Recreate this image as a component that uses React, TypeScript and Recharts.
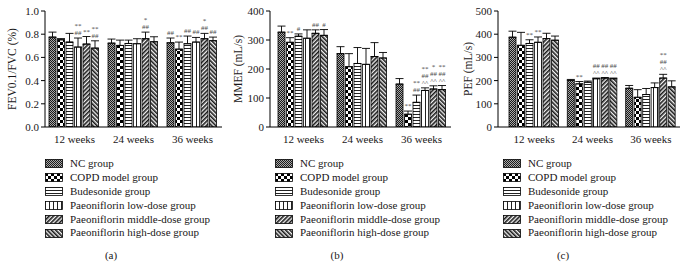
import React from 'react';
import { BarChart, Bar, XAxis, YAxis, ErrorBar, LabelList, Legend } from 'recharts';

const categories = ['12 weeks', '24 weeks', '36 weeks'];
const groupNames = [
  'NC group',
  'COPD model group',
  'Budesonide group',
  'Paeoniflorin low-dose group',
  'Paeoniflorin middle-dose group',
  'Paeoniflorin high-dose group',
];
const patternIds = ['patNC', 'patCOPD', 'patBud', 'patLow', 'patMid', 'patHigh'];

// (a) FEV0.1/FVC (%)
const fevMeans = [
  [0.775, 0.723, 0.726],
  [0.752, 0.703, 0.671],
  [0.732, 0.72, 0.718],
  [0.689, 0.718, 0.732],
  [0.715, 0.761, 0.761],
  [0.68, 0.735, 0.744],
];
const fevErrors = [
  [0.043, 0.035, 0.041],
  [0.01, 0.046, 0.061],
  [0.075, 0.029, 0.066],
  [0.078, 0.043, 0.04],
  [0.065, 0.057, 0.046],
  [0.063, 0.043, 0.031],
];
const fevMarks = [
  ['', '', '##'],
  ['', '', '**'],
  ['', '', '##'],
  ['**\n##', '', '##'],
  ['**', '*\n##', '*\n##'],
  ['**\n##', '', '##'],
];
const fevTicks = [0, 0.2, 0.4, 0.6, 0.8, 1.0];

// (b) MMEF (mL/s)
const mmefMeans = [
  [327, 253, 148],
  [292, 208, 44],
  [313, 219, 85],
  [306, 216, 126],
  [323, 243, 131],
  [316, 238, 129],
];
const mmefErrors = [
  [21, 24, 19],
  [16, 45, 11],
  [8, 55, 25],
  [29, 55, 9],
  [12, 48, 11],
  [20, 19, 14],
];
const mmefMarks = [
  ['', '', ''],
  ['**', '', '**'],
  ['#', '', '**\n##'],
  ['', '', '**\n##\n^^'],
  ['##', '', '*\n##\n^^'],
  ['#', '', '**\n##\n^^'],
];
const mmefTicks = [0, 100, 200, 300, 400];

// (c) PEF (mL/s)
const pefMeans = [
  [387, 201, 167],
  [352, 186, 128],
  [360, 193, 140],
  [365, 208, 170],
  [381, 211, 211],
  [374, 208, 173],
];
const pefErrors = [
  [26, 4, 12],
  [56, 10, 33],
  [16, 5, 26],
  [23, 3, 20],
  [23, 2, 16],
  [18, 3, 26],
];
const pefMarks = [
  ['', '', ''],
  ['', '**', ''],
  ['**', '', ''],
  ['**', '##\n^^', ''],
  ['', '##\n^^', '**\n##\n^^'],
  ['', '##\n^^', ''],
];
const pefTicks = [0, 100, 200, 300, 400, 500];

const FONT = "'Liberation Serif', 'DejaVu Serif', 'Times New Roman', serif";
const TEXT = '#1a1718';

function buildRows(means: number[][], errors: number[][], marks: string[][]) {
  return categories.map((cat, i) => {
    const row: any = { category: cat };
    means.forEach((m, g) => {
      row[`m${g}`] = m[i];
      row[`e${g}`] = [0, errors[g][i]];
      row[`a${g}`] = marks[g][i];
    });
    return row;
  });
}

const makeMarkRenderer = (means: number[], errors: number[]) => (props: any) => {
  const text = props.value as string;
  if (!text) return null;
  const vb = props.viewBox || props;
  const { x, y, width, height } = vb;
  let idx = props.index;
  if (idx === undefined || idx === null) idx = categories.indexOf(props.payload?.category);
  const mean = means[idx];
  const pxPerUnit = Math.abs(height) / mean;
  const top = Math.min(y, y + height) - errors[idx] * pxPerUnit;
  const lines = text.split('\n');
  return (
    <g>
      {lines.map((l, i) => (
        <text
          key={i}
          x={x + width / 2}
          y={top - 3 - (lines.length - 1 - i) * 7}
          textAnchor="middle"
          fontSize={7}
          fontFamily={FONT}
          fill="#4a4a4a"
        >
          {l}
        </text>
      ))}
    </g>
  );
};

const yLabel = (text: string, cx: number) => (props: any) => {
  const vb = props.viewBox;
  const cy = vb.y + vb.height / 2;
  return (
    <text
      x={cx}
      y={cy}
      transform={`rotate(-90, ${cx}, ${cy})`}
      textAnchor="middle"
      dominantBaseline="central"
      fontSize={11.5}
      fontFamily={FONT}
      fill={TEXT}
    >
      {text}
    </text>
  );
};

const renderLegend = () => (
  <div style={{ fontFamily: FONT, fontSize: 11, color: TEXT, lineHeight: '13.9px' }}>
    {groupNames.map((name, i) => (
      <div key={name} style={{ display: 'flex', alignItems: 'center', height: 13.9, whiteSpace: 'nowrap' }}>
        <svg width={18} height={9} style={{ marginRight: 7, flex: 'none' }}>
          <rect x={0.5} y={0.5} width={17} height={8} fill={`url(#${patternIds[i]})`} stroke="#000" strokeWidth={0.8} />
        </svg>
        <span>{name}</span>
      </div>
    ))}
  </div>
);

interface PanelProps {
  left: number;
  width: number;
  rightMargin: number;
  padLeft: number;
  means: number[][];
  errors: number[][];
  marks: string[][];
  ticks: number[];
  tickFmt: (v: number) => string;
  label: string;
  labelX: number;
  legendLeft: number;
  caption: string;
  captionX: number;
}

function Panel(p: PanelProps) {
  const rows = buildRows(p.means, p.errors, p.marks);
  const max = p.ticks[p.ticks.length - 1];
  return (
    <div style={{ position: 'absolute', left: p.left, top: 0 }}>
      <BarChart
        width={p.width}
        height={277}
        data={rows}
        margin={{ top: 11, right: p.rightMargin, left: 0, bottom: 127 }}
        barCategoryGap={4}
        barGap={1.5}
      >
        <XAxis
          dataKey="category"
          height={23}
          padding={{ left: p.padLeft, right: 0 }}
          tickLine={false}
          axisLine={{ stroke: '#000', strokeWidth: 1 }}
          tick={{ fontSize: 11, fontFamily: FONT, fill: TEXT }}
          interval={0}
        />
        <YAxis
          width={45}
          domain={[0, max]}
          ticks={p.ticks}
          allowDataOverflow
          tickSize={4}
          tickMargin={2}
          tickFormatter={p.tickFmt}
          axisLine={{ stroke: '#000', strokeWidth: 1 }}
          tickLine={{ stroke: '#000', strokeWidth: 1 }}
          tick={{ fontSize: 11, fontFamily: FONT, fill: TEXT }}
          label={yLabel(p.label, p.labelX)}
        />
        {groupNames.map((name, g) => (
          <Bar
            key={name}
            name={name}
            dataKey={`m${g}`}
            fill={`url(#${patternIds[g]})`}
            stroke="#000"
            strokeWidth={0.8}
            isAnimationActive={false}
          >
            <ErrorBar dataKey={`e${g}`} width={4} stroke="#000" strokeWidth={0.9} direction="y" />
            <LabelList dataKey={`a${g}`} content={makeMarkRenderer(p.means[g], p.errors[g])} />
          </Bar>
        ))}
        <Legend
          layout="vertical"
          align="center"
          verticalAlign="middle"
          wrapperStyle={{ left: p.legendLeft, top: 157, width: 190 }}
          content={renderLegend}
        />
      </BarChart>
      <div
        style={{
          position: 'absolute',
          left: p.captionX - 20,
          width: 40,
          top: 249,
          textAlign: 'center',
          fontFamily: FONT,
          fontSize: 11,
          color: TEXT,
        }}
      >
        {p.caption}
      </div>
    </div>
  );
}

export default function App() {
  return (
    <div style={{ position: 'absolute', left: 0, top: 0, width: 683, height: 277, background: '#fff', overflow: 'hidden' }}>
      <svg width={0} height={0} style={{ position: 'absolute' }}>
        <defs>
          <pattern id="patNC" patternUnits="userSpaceOnUse" width={2} height={2}>
            <rect width={2} height={2} fill="#a8a8a8" />
            <rect width={1} height={1} fill="#1a1a1a" />
            <rect x={1} y={1} width={1} height={1} fill="#1a1a1a" />
          </pattern>
          <pattern id="patCOPD" patternUnits="userSpaceOnUse" width={6} height={6}>
            <rect width={6} height={6} fill="#fff" />
            <rect width={3} height={3} fill="#000" />
            <rect x={3} y={3} width={3} height={3} fill="#000" />
          </pattern>
          <pattern id="patBud" patternUnits="userSpaceOnUse" width={4} height={3}>
            <rect width={4} height={3} fill="#fff" />
            <rect width={4} height={1} fill="#222" />
          </pattern>
          <pattern id="patLow" patternUnits="userSpaceOnUse" width={4} height={4}>
            <rect width={4} height={4} fill="#fff" />
            <rect width={1} height={4} fill="#222" />
          </pattern>
          <pattern id="patMid" patternUnits="userSpaceOnUse" width={3} height={3} patternTransform="rotate(45)">
            <rect width={3} height={3} fill="#f2f2f2" />
            <rect width={1.6} height={3} fill="#1a1a1a" />
          </pattern>
          <pattern id="patHigh" patternUnits="userSpaceOnUse" width={3} height={3} patternTransform="rotate(-45)">
            <rect width={3} height={3} fill="#f2f2f2" />
            <rect width={1.6} height={3} fill="#1a1a1a" />
          </pattern>
        </defs>
      </svg>
      <Panel
        left={0}
        width={228}
        rightMargin={6}
        padLeft={0}
        means={fevMeans}
        errors={fevErrors}
        marks={fevMarks}
        ticks={fevTicks}
        tickFmt={(v) => v.toFixed(1)}
        label="FEV0.1/FVC (%)"
        labelX={12}
        legendLeft={45}
        caption="(a)"
        captionX={111}
      />
      <Panel
        left={225}
        width={230}
        rightMargin={4}
        padLeft={4}
        means={mmefMeans}
        errors={mmefErrors}
        marks={mmefMarks}
        ticks={mmefTicks}
        tickFmt={(v) => String(v)}
        label="MMEF (mL/s)"
        labelX={12.5}
        legendLeft={50}
        caption="(b)"
        captionX={112}
      />
      <Panel
        left={453}
        width={230}
        rightMargin={3}
        padLeft={7}
        means={pefMeans}
        errors={pefErrors}
        marks={pefMarks}
        ticks={pefTicks}
        tickFmt={(v) => String(v)}
        label="PEF (mL/s)"
        labelX={14.5}
        legendLeft={50}
        caption="(c)"
        captionX={110}
      />
    </div>
  );
}
